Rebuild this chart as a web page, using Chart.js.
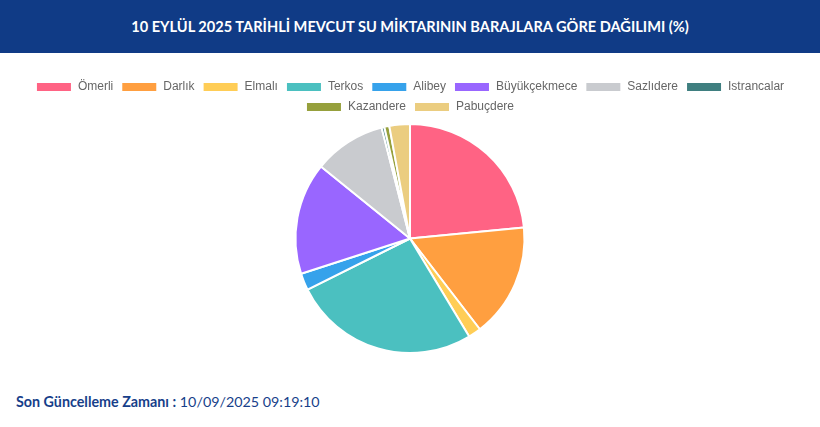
<!DOCTYPE html>
<html lang="tr">
<head>
<meta charset="utf-8">
<script src="https://cdn.jsdelivr.net/npm/chart.js@4"></script>
<style>
  body { margin: 0; background: #fff; font-family: Lato, "Open Sans", sans-serif; }
  .header { height: 53px; background: #103b86; color: #fff; display: flex; align-items: center; justify-content: center; font-weight: 700; font-size: 14.6px; }
  .chart-box { position: absolute; left: 0; top: 73px; width: 820px; height: 281px; }
  .footer { position: absolute; left: 16px; top: 393px; font-size: 14.3px; color: #173f8a; }
  .footer b { font-weight: 700; }
</style>
</head>
<body>
<div class="header">10 EYLÜL 2025 TARİHLİ MEVCUT SU MİKTARININ BARAJLARA GÖRE DAĞILIMI (%)</div>
<div class="chart-box"><canvas id="damChart"></canvas></div>
<div class="footer"><b>Son Güncelleme Zamanı :</b> 10/09/2025 09:19:10</div>
<script>
// dam names and share of current water volume (%)
const dams = ['Ömerli', 'Darlık', 'Elmalı', 'Terkos', 'Alibey', 'Büyükçekmece', 'Sazlıdere', 'Istrancalar', 'Kazandere', 'Pabuçdere'];
const shares = [23.5, 16.1, 1.8, 26.3, 2.4, 15.8, 10.2, 0.4, 0.7, 2.9];
const colors = ['#ff6384', '#ff9f40', '#ffcd56', '#4bc0c0', '#36a2eb', '#9966ff', '#c9cbcf', '#3f7f80', '#96a03c', '#ebcd80'];

new Chart(document.getElementById('damChart'), {
    type: 'pie',
    data: {
        labels: dams,
        datasets: [{
            data: shares,
            backgroundColor: colors,
            borderColor: '#fff',
            borderWidth: 2
        }]
    },
    options: {
        responsive: true,
        maintainAspectRatio: false,
        animation: false,
        plugins: {
            legend: {
                position: 'top',
                labels: {
                    boxWidth: 36,
                    boxHeight: 10,
                    padding: 8,
                    color: '#666',
                    font: { family: 'Liberation Sans, Arial', size: 12 }
                }
            }
        }
    }
});
</script>
</body>
</html>
